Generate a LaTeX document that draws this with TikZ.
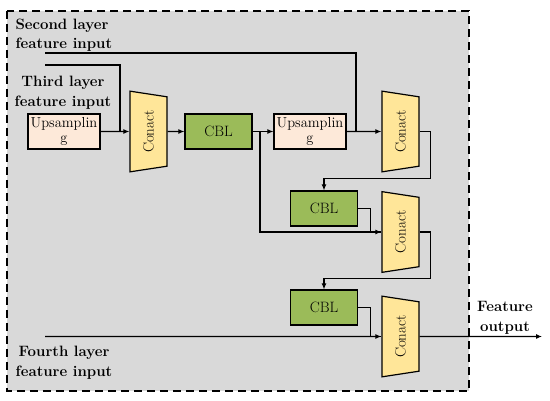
\documentclass[tikz,border=0pt]{standalone}
\usepackage{tikz}
\usetikzlibrary{
    arrows.meta,
    positioning,
    shapes.geometric
}
\definecolor{framegray}{HTML}{D9D9D9}
\definecolor{cblgreen}{HTML}{9BBB59}
\definecolor{uppeach}{HTML}{FDE9D9}
\definecolor{catyellow}{HTML}{FFE699}

\begin{document}
\begin{tikzpicture}[
  x=1pt, y=-1pt,
  >={Latex[length=6pt,width=5pt]},
  line width=1.1pt,
  upbox/.style  = {rectangle, draw, fill=uppeach, line width=1.2pt, align=center,
                   minimum width=72pt, minimum height=35pt, inner sep=0pt,
                   font=\fontsize{14.5}{15}\selectfont},
  cblbox/.style = {rectangle, draw, fill=cblgreen, line width=1.2pt, align=center,
                   minimum width=67pt, minimum height=35pt,
                   font=\fontsize{15}{16}\selectfont},
  conact/.style = {trapezium, draw, fill=catyellow, line width=1.2pt,
                   trapezium stretches=true, trapezium angle=72,
                   minimum width=81pt, minimum height=37pt, inner sep=0pt,
                   rotate=90, shape border rotate=180,
                   font=\fontsize{15}{16}\selectfont},
  inlabel/.style = {align=center, inner sep=0pt,
                    font=\bfseries\fontsize{15}{19.5}\selectfont}
]
\useasboundingbox (0,0) rectangle (550,401);

% Frame
\draw[line width=1.2pt, fill=framegray, dash pattern=on 8pt off 5pt]
  (7,11) rectangle (469,391);

% Nodes
\node[upbox]  (up1)  at (64,131.5)   {Upsamplin\\g};
\node[conact] (cat1) at (148.5,131.5) {Conact};
\node[cblbox] (cbl1) at (218.5,131.5) {CBL};
\node[upbox]  (up2)  at (310,131.5)  {Upsamplin\\g};
\node[conact] (cat2) at (400.5,131.5) {Conact};
\node[cblbox] (cbl2) at (324,208.5)  {CBL};
\node[conact] (cat3) at (400.5,232)  {Conact};
\node[cblbox] (cbl3) at (324,307.5)  {CBL};
\node[conact] (cat4) at (400.5,336.5) {Conact};

% Labels
\node[inlabel, align=left, anchor=west] (second) at (15,35) {Second layer\\feature input};
\node[inlabel] (third)  at (63,93)   {Third layer\\feature input};
\node[inlabel] (fourth) at (64,363)  {Fourth layer\\feature input};
\node[inlabel] (out)    at (505,318) {Feature\\output};

% Free ends and joints
\coordinate (in2) at (45,53);
\coordinate (in3) at (45,65);
\coordinate (in4) at (45,336.5);
\coordinate (j3)  at (120,131.5);
\coordinate (j2)  at (356,131.5);
\coordinate (jb)  at (260,131.5);
\coordinate (end) at (542,336.5);

% Main path
\draw[->] (up1.east) -- (cat1.north);
\draw[->] (cat1.south) -- (cbl1.west);
\draw[->] (cbl1.east) -- (up2.west);
\draw[->] (up2.east) -- (cat2.north);
\draw (in3) -| (j3);
\draw (in2) -| (j2);

% Branches
\draw[->] (jb) |- (cat3.north);
\draw[->] (cat2.south) -- ++(11,0) |- ([yshift=12pt]cbl2.north) -- (cbl2.north);
\draw (cbl2.east) -- ++(12,0) |- (cat3.north);
\draw[->] (cat3.south) -- ++(11,0) |- ([yshift=11pt]cbl3.north) -- (cbl3.north);
\draw (cbl3.east) -- ++(12,0) |- (cat4.north);
\draw[->] (in4) -- (cat4.north);
\draw[->] (cat4.south) -- (end);

\end{tikzpicture}
\end{document}
